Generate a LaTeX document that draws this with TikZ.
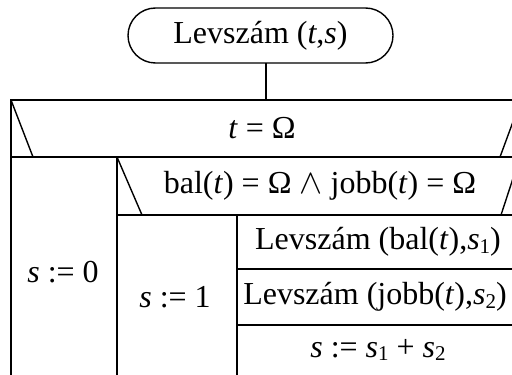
\documentclass[tikz,border=0pt]{standalone}
\usepackage{fontspec}
\setmainfont{Liberation Serif}
\usetikzlibrary{positioning}
\tikzset{
	keretVonal/.style={
		line width=0.7pt,
		line cap=rect
	},
	cellaSzoveg/.style={
		inner sep=0pt,
		font=\fontsize{16}{19}\selectfont
	},
	kezdoDoboz/.style={
		cellaSzoveg,
		draw,
		line width=0.7pt,
		rounded corners=13.75pt,
		minimum width=132.5pt,
		minimum height=27.5pt
	}
}
\newcommand{\vt}{\textit{t}}
\newcommand{\vs}{\textit{s}}
\newcommand{\als}[1]{\raisebox{-0.12em}{\fontsize{10.5}{10.5}\selectfont #1}}

\begin{document}
\begin{tikzpicture}[x=0.5pt,y=-0.5pt]
		\useasboundingbox (0,0) rectangle (512,374);
		\clip (0,0) rectangle (512,374);
		\node[kezdoDoboz] (kezdo) at (260.5,35.5) {Levszám (\vt,\vs)};
		\coordinate (belepes) at (266,100);
		\draw[keretVonal] (kezdo.south -| belepes) -- (belepes);
		% feltetel t = Omega
		\draw[keretVonal] (11,378) -- (11,100) -- (522,100) -- (522,378);
		\draw[keretVonal] (11,157) -- (522,157);
		\draw[keretVonal] (11,100) -- (33,157);
		\draw[keretVonal] (521,100) -- (500,157);
		\node[cellaSzoveg] (felt1) at (262,128) {\vt{} = Ω};
		\node[cellaSzoveg] (ag0) at (63,272) {\vs{} := 0};
		% belso feltetel
		\draw[keretVonal] (117,157) -- (117,378);
		\draw[keretVonal] (117,215) -- (522,215);
		\draw[keretVonal] (117,157) -- (142,215);
		\draw[keretVonal] (520,157) -- (501,215);
		\node[cellaSzoveg] (felt2) at (320,186) {bal(\vt) = Ω $\wedge$ jobb(\vt) = Ω};
		\node[cellaSzoveg] (ag1) at (175,297) {\vs{} := 1};
		% szekvencia
		\draw[keretVonal] (237,215) -- (237,378);
		\draw[keretVonal] (237,269) -- (522,269);
		\draw[keretVonal] (237,325) -- (522,325);
		\node[cellaSzoveg] (hivas1) at (378,242) {Levszám (bal(\vt),\vs\als{1})};
		\node[cellaSzoveg] (hivas2) at (375,297) {Levszám (jobb(\vt),\vs\als{2})};
		\node[cellaSzoveg] (osszeg) at (378,350) {\vs{} := \vs\als{1} + \vs\als{2}};
	\end{tikzpicture}
\end{document}
